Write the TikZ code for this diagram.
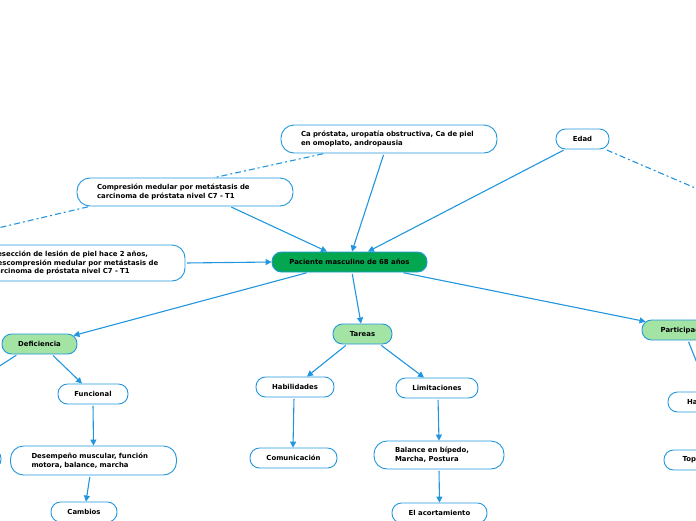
\documentclass[tikz,border=0pt]{standalone}
\usepackage{fontspec}
\setmainfont{DejaVu Sans}
\usetikzlibrary{arrows.meta}
\definecolor{lineblue}{RGB}{33,150,222}
\definecolor{darkgreen}{RGB}{5,166,80}
\definecolor{lightgreen}{RGB}{163,228,165}
\tikzset{
  box/.style={draw=lineblue, line width=0.9pt, rounded corners=9.5pt, fill=white,
    font=\fontsize{6.9}{8.8}\selectfont\bfseries, inner sep=0pt, minimum height=20pt, text=black},
  bigbox/.style={box, rounded corners=13pt, align=left, inner xsep=20pt},
  con/.style={draw=lineblue, line width=1.1pt, shorten <=1.5pt, -{Triangle[length=6pt,width=6pt]}},
  dcon/.style={draw=lineblue, line width=1.1pt, shorten <=1.5pt, dash pattern=on 6pt off 3pt on 2pt off 3pt},
  pcon/.style={draw=lineblue, line width=1.1pt, shorten <=1.5pt}
}
\begin{document}
\begin{tikzpicture}[x=1pt,y=-1pt]
\useasboundingbox (0,0) rectangle (696,520);
% nodes
\node[bigbox, text width=176pt, minimum height=28pt] (ca) at (389,139) {Ca próstata, uropatía obstructiva, Ca de piel\\en omoplato, andropausia};
\node[bigbox, text width=176pt, minimum height=28pt] (comp) at (185,192) {Compresión medular por metástasis de\\carcinoma de próstata nivel C7 - T1};
\node[bigbox, text width=173pt, minimum height=36pt] (sec) at (78.5,263) {Resección de lesión de piel hace 2 años,\\Descompresión medular por metástasis de\\carcinoma de próstata nivel C7 - T1};
\node[box, fill=darkgreen, minimum width=155pt] (pac) at (349.5,262) {Paciente masculino de 68 años};
\node[box, minimum width=53pt] (edad) at (582.5,139) {Edad};
\node[box, fill=lightgreen, minimum width=75pt] (def) at (39.5,344) {Deficiencia};
\node[box, fill=lightgreen, minimum width=59pt] (tar) at (362.5,334) {Tareas};
\node[box, fill=lightgreen, minimum width=88pt] (part) at (686,330) {Participación};
\node[box, minimum width=70pt] (fun) at (93,394) {Funcional};
\node[box, minimum width=78pt] (hab) at (295,387) {Habilidades};
\node[box, minimum width=82pt] (lim) at (437,388) {Limitaciones};
\node[bigbox, text width=124pt, inner xsep=21pt, minimum height=29pt] (des) at (93.5,460.5) {Desempeño muscular, función\\motora, balance, marcha};
\node[box, minimum width=87pt] (com) at (293.5,458) {Comunicación};
\node[bigbox, text width=88pt, inner xsep=21pt, minimum height=28pt] (bal) at (439,455) {Balance en bípedo,\\Marcha, Postura};
\node[box, minimum width=66pt] (cam) at (84,512) {Cambios};
\node[box, minimum width=95pt] (aco) at (439.5,513) {El acortamiento};
\node[box, minimum width=84pt] (hright) at (710,402) {Habilidades};
\node[box, minimum width=66pt] (tright) at (697,460) {Topicos};
\node[box, minimum width=80pt] (lleft) at (-39,459) {};
% free ends
\coordinate (cl) at (-2,228);
\coordinate (dl) at (-2,367);
\coordinate (er) at (700,190);
\coordinate (pr) at (699,368);
% connectors
\draw[con] ([xshift=-5pt]ca.south) -- ([xshift=2.5pt]pac.north);
\draw[dcon] ([xshift=44pt]ca.south west) -- ([xshift=138pt]comp.north west);
\draw[con] ([xshift=45pt]comp.south) -- ([xshift=-22.5pt]pac.north);
\draw[dcon] ([xshift=13pt]comp.south west) -- (cl);
\draw[con] (sec.east) -- (pac.west);
\draw[con] ([xshift=-17.5pt]edad.south) -- ([xshift=18.5pt]pac.north);
\draw[dcon] ([xshift=-4pt]edad.south east) -- (er);
\draw[con] ([xshift=-41.5pt]pac.south) -- ([xshift=-4pt,yshift=-2pt]def.north east);
\draw[con] ([xshift=2.5pt]pac.south) -- ([xshift=-1.5pt]tar.north);
\draw[con] ([xshift=52.5pt]pac.south) -- ([xshift=4pt,yshift=-2pt]part.north west);
\draw[pcon] ([xshift=16pt]def.south west) -- (dl);
\draw[con] ([xshift=12.5pt]def.south) -- ([xshift=-11pt]fun.north);
\draw[con] (fun.south) -- (des.north);
\draw[con] ([xshift=-3.5pt]des.south) -- ([xshift=2pt]cam.north);
\draw[con] ([xshift=-15.5pt]tar.south) -- ([xshift=12pt]hab.north);
\draw[con] ([xshift=17.5pt]tar.south) -- ([xshift=-13pt]lim.north);
\draw[con] ([xshift=-1pt]hab.south) -- ([xshift=-0.5pt]com.north);
\draw[con] ([xshift=1pt]lim.south) -- (bal.north);
\draw[con] (bal.south) -- (aco.north);
\draw[pcon] ([xshift=2pt]part.south) -- (pr);
\end{tikzpicture}
\end{document}
